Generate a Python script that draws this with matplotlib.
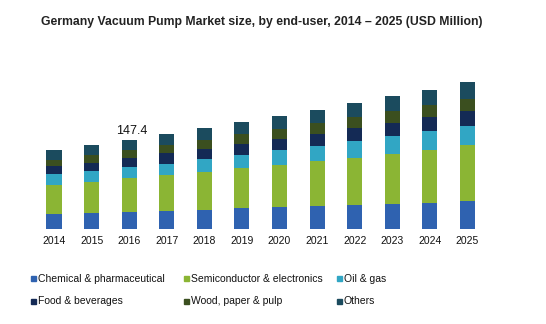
import matplotlib.pyplot as plt
from matplotlib.patches import Rectangle
import numpy as np

plt.rcParams['font.family'] = ['Liberation Sans', 'DejaVu Sans']

years = ['2014', '2015', '2016', '2017', '2018', '2019',
         '2020', '2021', '2022', '2023', '2024', '2025']
chemical = [24.3, 26.5, 28.2, 29.8, 31.0, 34.8, 36.4, 37.6, 39.2, 42.0, 43.7, 45.9]
semiconductor = [48.0, 50.8, 56.3, 59.1, 63.5, 66.2, 69.0, 75.0, 79.0, 82.8, 87.8, 92.7]
oil_gas = [18.2, 18.7, 18.2, 19.3, 21.0, 21.0, 24.8, 24.3, 27.5, 28.7, 30.3, 31.5]
food = [13.2, 13.8, 14.9, 17.7, 16.6, 18.2, 18.2, 21.0, 22.2, 22.0, 23.7, 24.8]
wood = [11.0, 12.1, 12.7, 13.2, 14.9, 17.7, 17.1, 17.6, 17.6, 19.9, 19.4, 21.0]
others = [15.4, 16.6, 17.1, 17.7, 20.4, 19.3, 21.0, 21.0, 23.2, 24.3, 24.8, 27.0]

labels = ['Chemical & pharmaceutical', 'Semiconductor & electronics', 'Oil & gas',
          'Food & beverages', 'Wood, paper & pulp', 'Others']
colors = ['#2F62B0', '#8BB534', '#31A6C4', '#142A55', '#3B4F1F', '#1B4B5E']
series = [chemical, semiconductor, oil_gas, food, wood, others]

W, H = 546, 324
fig = plt.figure(figsize=(W / 100, H / 100), dpi=100)
ax = fig.add_axes([35.2 / W, 95 / H, 451 / W, 157 / H])

x = np.arange(len(years))
bottom = np.zeros(len(years))
for vals, lab, col in zip(series, labels, colors):
    ax.bar(x, vals, 0.4, bottom=bottom, color=col, label=lab)
    bottom += np.array(vals)

# label for 2016 total
ax.text(2.08, bottom[2] + 5, '147.4', ha='center', va='bottom', fontsize=9, color='#111111')

ax.set_xlim(-0.5, 11.5)
ax.set_ylim(0, 260)
ax.set_xticks(x)
ax.set_xticklabels(years, fontsize=7.5, color='#111111')
ax.tick_params(axis='x', length=0, pad=5)
ax.set_yticks([])
for s in ax.spines.values():
    s.set_visible(False)

fig.text(261.5 / W, 1 - 22.5 / H, 'Germany Vacuum Pump Market size, by end-user, 2014 \u2013 2025 (USD Million)',
         ha='center', va='center', fontsize=8.8, fontweight='bold', color='#222222')

# legend laid out row by row, like the original
col_x = [31, 184, 337]
row_y = [278.5, 301]
for i, (lab, col) in enumerate(zip(labels, colors)):
    cx = col_x[i % 3]
    cy = row_y[i // 3]
    fig.patches.append(Rectangle((cx / W, 1 - (cy + 2.5) / H), 4.5 / W, 5 / H,
                                 transform=fig.transFigure, color=col, figure=fig))
    fig.text((cx + 7) / W, 1 - cy / H, lab, ha='left', va='center', fontsize=7.5, color='#111111')

fig.savefig('out.png', dpi=100)
